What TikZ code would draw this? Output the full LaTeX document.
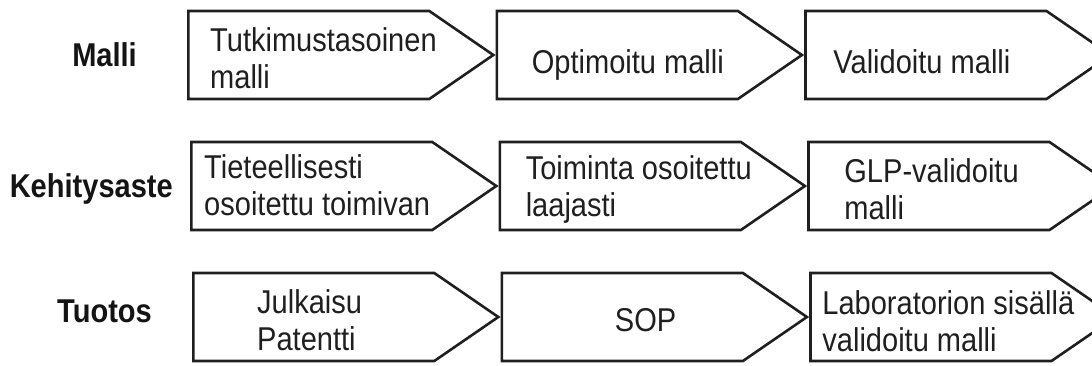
\documentclass[tikz,border=0pt]{standalone}
\usepackage{fontspec}
\setmainfont{Liberation Sans}[FakeStretch=0.88]
\usepackage{tikz}
\usetikzlibrary{positioning,shapes.symbols}
\newcommand{\boxfont}{\fontsize{33}{37}\selectfont}

\begin{document}
\begin{tikzpicture}[
  x=1pt, y=-1pt,
  stage/.style={shape=signal, signal to=east, signal pointer angle=69,
                draw=black!88, line width=2.6pt, minimum width=305pt,
                minimum height=88pt, inner sep=0pt},
  txt/.style={font=\boxfont, text=black!88, align=left, inner sep=0pt},
  rowlbl/.style={font=\boxfont\bfseries, text=black!92, inner sep=0pt}
]
\useasboundingbox (0,0) rectangle (1092,365);

\node[stage, anchor=west] (m1) at (187,55) {};
\node[stage, right=0pt of m1] (m2) {};
\node[stage, right=0pt of m2] (m3) {};
\node[stage, anchor=west] (k1) at (190,186) {};
\node[stage, right=0pt of k1] (k2) {};
\node[stage, right=0pt of k2] (k3) {};
\node[stage, anchor=west] (t1) at (192,317) {};
\node[stage, right=0pt of t1] (t2) {};
\node[stage, right=0pt of t2] (t3) {};

\node[rowlbl, left=50pt of m1] (malli) {Malli};
\node[rowlbl, left=17pt of k1, yshift=-3pt] (kehitys) {Kehitysaste};
\node[rowlbl, left=40pt of t1, yshift=6pt] (tuotos) {Tuotos};

\node[txt, right=23pt of m1.west, yshift=-3pt] (m1txt) {Tutkimustasoinen\\malli};
\node[txt, right=36pt of m2.west, yshift=-10pt] (m2txt) {Optimoitu malli};
\node[txt, right=29pt of m3.west, yshift=-7pt] (m3txt) {Validoitu malli};
\node[txt, right=14pt of k1.west, yshift=1pt] (k1txt) {Tieteellisesti\\osoitettu toimivan};
\node[txt, right=27pt of k2.west, yshift=-3pt] (k2txt) {Toiminta osoitettu\\laajasti};
\node[txt, right=37pt of k3.west, yshift=-3pt] (k3txt) {GLP-validoitu\\malli};
\node[txt, right=65pt of t1.west, yshift=-3pt] (t1txt) {Julkaisu\\Patentti};
\node[txt, xshift=145pt, yshift=-3pt] (t2txt) at (t2.west) {SOP};
\node[txt, right=13pt of t3.west, yshift=-4pt] (t3txt) {Laboratorion sisällä\\validoitu malli};
\end{tikzpicture}
\end{document}
